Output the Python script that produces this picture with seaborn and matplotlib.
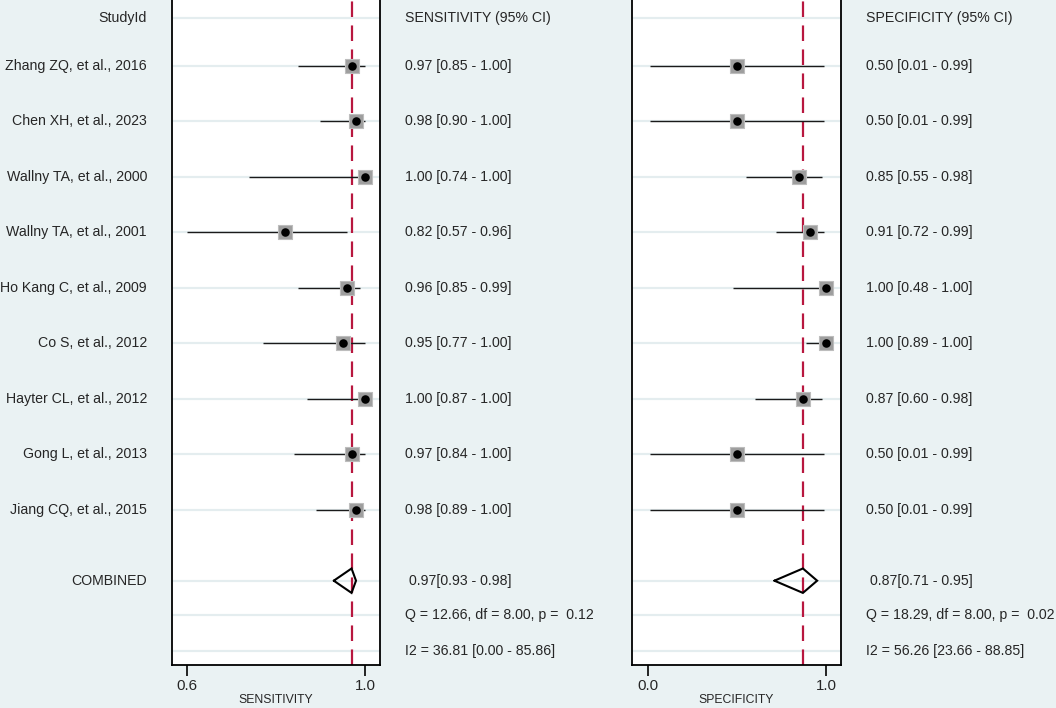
import numpy as np
import pandas as pd
import matplotlib
matplotlib.use("Agg")
import matplotlib.pyplot as plt
import matplotlib.transforms as mtransforms
import seaborn as sns

# Dane z wykresu (midas forest plot)
studies = ["Zhang ZQ, et al., 2016", "Chen XH, et al., 2023", "Wallny TA, et al., 2000",
           "Wallny TA, et al., 2001", "Ho Kang C, et al., 2009", "Co S, et al., 2012",
           "Hayter CL, et al., 2012", "Gong L, et al., 2013", "Jiang CQ, et al., 2015"]

sens = [0.97, 0.98, 1.00, 0.82, 0.96, 0.95, 1.00, 0.97, 0.98]
sens_lo = [0.85, 0.90, 0.74, 0.57, 0.85, 0.77, 0.87, 0.84, 0.89]
sens_hi = [1.00, 1.00, 1.00, 0.96, 0.99, 1.00, 1.00, 1.00, 1.00]

spec = [0.50, 0.50, 0.85, 0.91, 1.00, 1.00, 0.87, 0.50, 0.50]
spec_lo = [0.01, 0.01, 0.55, 0.72, 0.48, 0.89, 0.60, 0.01, 0.01]
spec_hi = [0.99, 0.99, 0.98, 0.99, 1.00, 1.00, 0.98, 0.99, 0.99]

sens_comb = (0.97, 0.93, 0.98)
spec_comb = (0.87, 0.71, 0.95)
sens_het = ("Q = 12.66, df = 8.00, p =  0.12", "I2 = 36.81 [0.00 - 85.86]")
spec_het = ("Q = 18.29, df = 8.00, p =  0.02", "I2 = 56.26 [23.66 - 88.85]")

sens_ticks = [0.6, 1.0]
spec_ticks = [0.0, 1.0]

df = pd.DataFrame({"study": studies, "sens": sens, "sens_lo": sens_lo, "sens_hi": sens_hi,
                   "spec": spec, "spec_lo": spec_lo, "spec_hi": spec_hi})
df["row"] = np.arange(1, len(df) + 1)

# pozycje wierszy (układ)
y_head, y_comb, y_q, y_i2 = 0.13, 10.28, 10.89, 11.55
y_top, y_bot = -0.19, 11.80

sns.set_theme(style="white")
plt.rcParams["font.family"] = ["Liberation Sans", "DejaVu Sans"]

BG = "#eaf2f3"
RED = "#b8173f"
W, H = 1056, 708
FS = 10.2

fig = plt.figure(figsize=(W / 100, H / 100), dpi=100, facecolor=BG)


def panel(x0, x1, est, lo, hi, comb, ticks, xlim, label, header, het, tx):
    ax = fig.add_axes([x0 / W, (H - 665) / H, (x1 - x0) / W, 665 / H])
    ax.set_facecolor("white")
    ax.set_xlim(*xlim)
    ax.set_ylim(y_bot, y_top)
    rows = list(df["row"]) + [y_head, y_comb, y_q, y_i2]
    ax.hlines(rows, xlim[0], xlim[1], color="#e4edef", lw=1.6, zorder=0)
    ax.axvline(comb[0], color=RED, lw=1.6, ls=(0, (7, 3.8)), zorder=1)
    ax.hlines(df["row"], np.clip(df[lo], ticks[0], None), df[hi], color="#1a1a1a", lw=1.0, zorder=2)
    sns.scatterplot(data=df, x=est, y="row", marker="s", s=105, color="#9e9e9e",
                    edgecolor="#bdbdbd", linewidth=0.8, zorder=3, ax=ax, legend=False)
    sns.scatterplot(data=df, x=est, y="row", marker="o", s=38, color="black",
                    edgecolor="black", linewidth=0, zorder=4, ax=ax, legend=False)
    e, l, h = comb
    ax.plot([l, e, h, e, l], [y_comb, y_comb - 0.22, y_comb, y_comb + 0.22, y_comb],
            color="black", lw=1.5, zorder=4, solid_joinstyle="miter")
    ax.set_xticks(ticks)
    ax.set_xticklabels([f"{t:.1f}" for t in ticks], fontsize=10.8)
    ax.tick_params(axis="x", direction="out", length=8, width=1.2, color="black", pad=2, bottom=True)
    ax.set_yticks([])
    ax.set_xlabel(label, fontsize=8.8, labelpad=1)
    ax.set_ylabel("")
    for s in ["left", "right", "bottom"]:
        ax.spines[s].set_visible(True)
        ax.spines[s].set_color("black")
        ax.spines[s].set_linewidth(1.3)
    ax.spines["top"].set_visible(False)

    tr = mtransforms.blended_transform_factory(fig.transFigure, ax.transData)
    fig.text(tx / W, y_head, header, transform=tr, va="center", ha="left", fontsize=FS)
    for _, r in df.iterrows():
        fig.text(tx / W, r["row"], f"{r[est]:.2f} [{r[lo]:.2f} - {r[hi]:.2f}]",
                 transform=tr, va="center", ha="left", fontsize=FS)
    fig.text((tx + 4) / W, y_comb, f"{e:.2f}[{l:.2f} - {h:.2f}]", transform=tr,
             va="center", ha="left", fontsize=FS)
    fig.text(tx / W, y_q, het[0], transform=tr, va="center", ha="left", fontsize=FS)
    fig.text(tx / W, y_i2, het[1], transform=tr, va="center", ha="left", fontsize=FS)
    return ax, tr


ax1, tr1 = panel(172, 380, "sens", "sens_lo", "sens_hi", sens_comb, sens_ticks,
                 (0.566, 1.034), "SENSITIVITY", "SENSITIVITY (95% CI)", sens_het, 405)
ax2, tr2 = panel(632, 841, "spec", "spec_lo", "spec_hi", spec_comb, spec_ticks,
                 (-0.09, 1.084), "SPECIFICITY", "SPECIFICITY (95% CI)", spec_het, 866)

# etykiety badań
fig.text(147 / W, y_head, "StudyId", transform=tr1, va="center", ha="right", fontsize=FS)
for _, r in df.iterrows():
    fig.text(147 / W, r["row"], r["study"], transform=tr1, va="center", ha="right", fontsize=FS)
fig.text(147 / W, y_comb, "COMBINED", transform=tr1, va="center", ha="right", fontsize=FS)

fig.savefig("out.png", dpi=100, facecolor=BG)
